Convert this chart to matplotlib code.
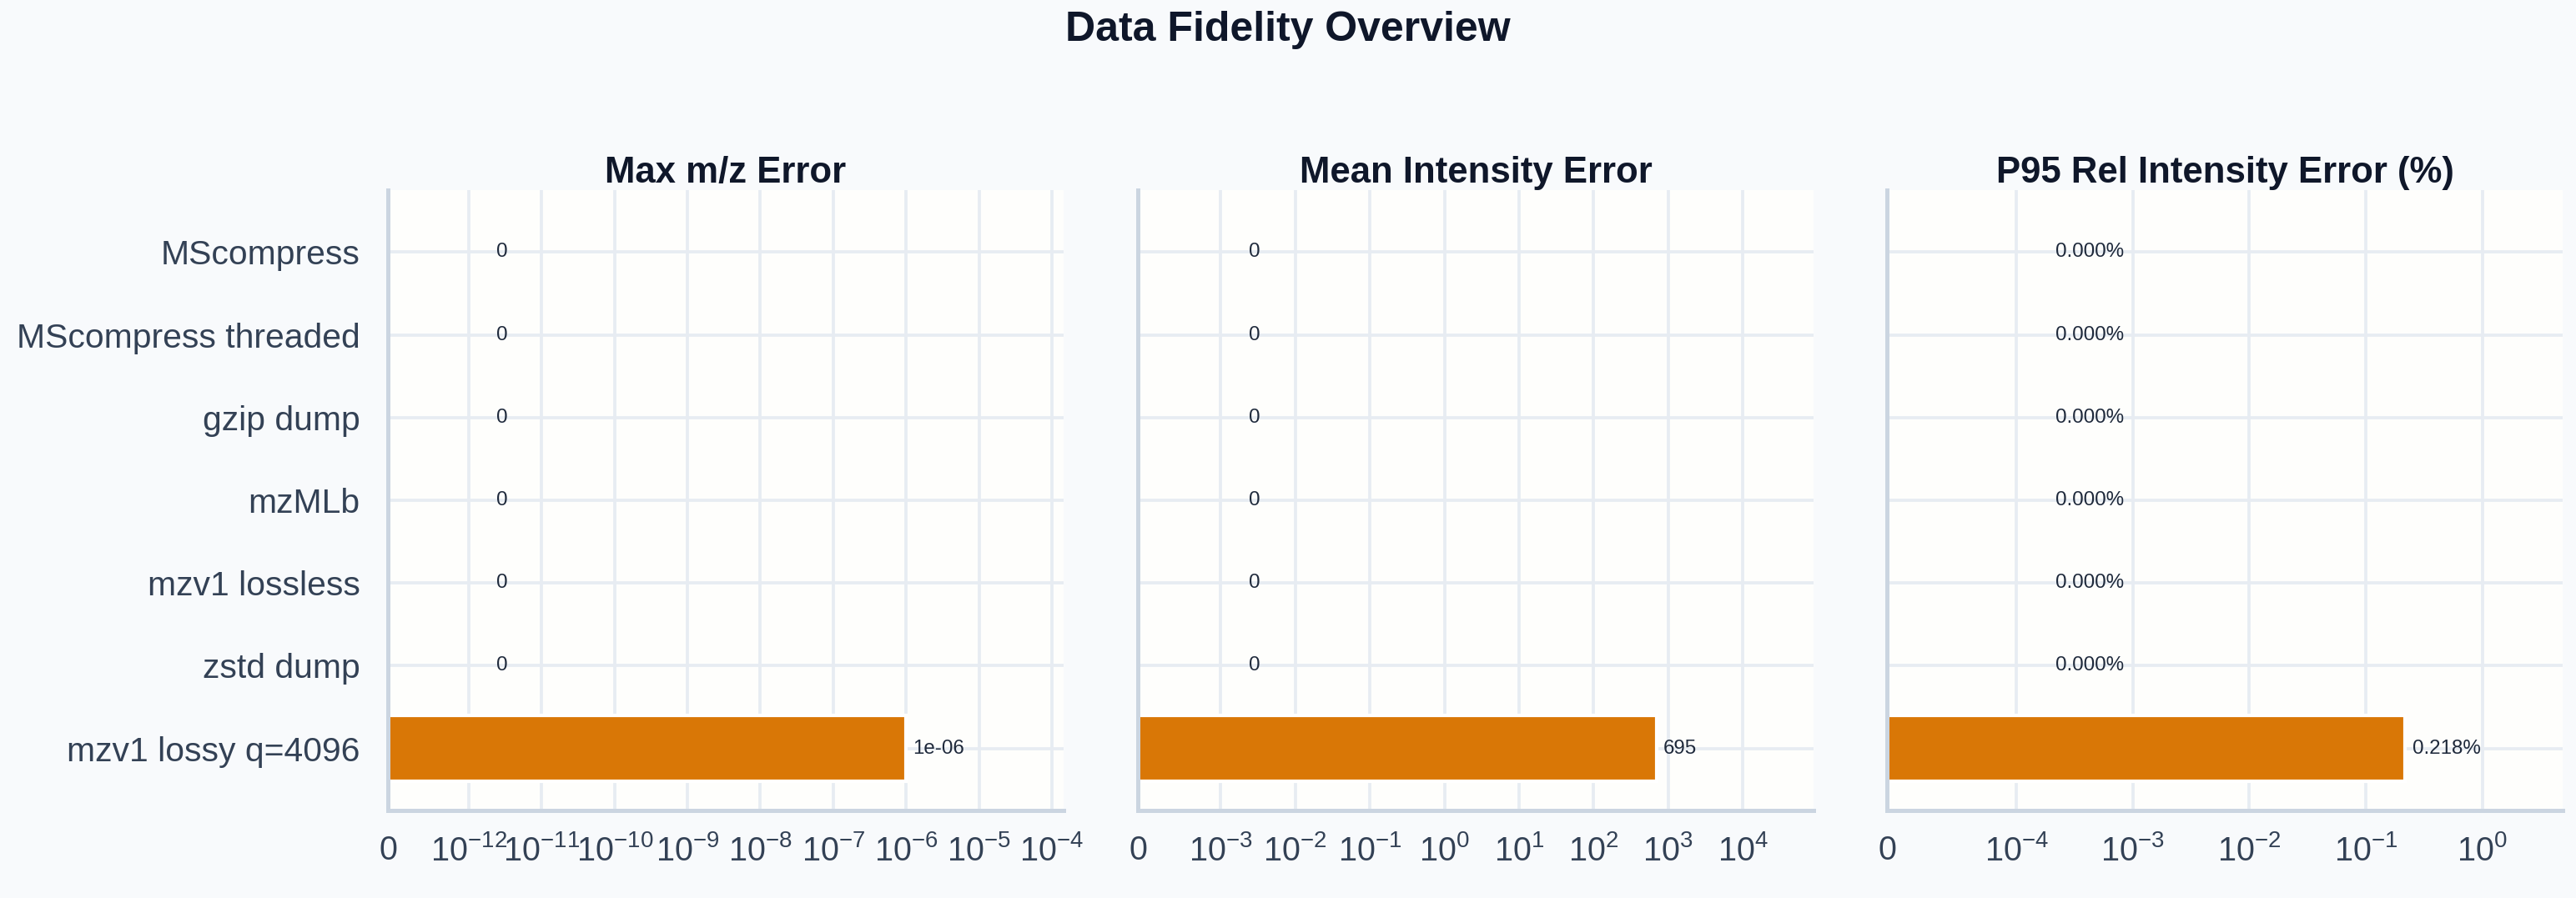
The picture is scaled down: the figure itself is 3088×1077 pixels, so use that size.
import numpy as np
import matplotlib
matplotlib.use('Agg')
import matplotlib.pyplot as plt

plt.rcParams['font.family'] = ['Liberation Sans', 'DejaVu Sans']
plt.rcParams['mathtext.fontset'] = 'custom'
plt.rcParams['mathtext.rm'] = 'Liberation Sans'
plt.rcParams['mathtext.it'] = 'Liberation Sans:italic'
plt.rcParams['mathtext.bf'] = 'Liberation Sans:bold'

# data
methods = ['MScompress', 'MScompress threaded', 'gzip dump', 'mzMLb',
           'mzv1 lossless', 'zstd dump', 'mzv1 lossy q=4096']
max_mz_err = [0, 0, 0, 0, 0, 0, 1e-6]
mean_int_err = [0, 0, 0, 0, 0, 0, 695]
p95_rel_err = [0, 0, 0, 0, 0, 0, 0.218]

titles = ['Max m/z Error', 'Mean Intensity Error', 'P95 Rel Intensity Error (%)']
linthresh = [1e-12, 1e-3, 1e-4]
xmax = [1.45e-4, 8.9e4, 4.9]
tick_exp = [range(-12, -3), range(-3, 5), range(-4, 1)]

bg = '#F8FAFC'
bar_color = '#D97706'
grid_color = '#E7ECF2'
spine_color = '#CBD5E1'

fig = plt.figure(figsize=(3088 / 300, 1077 / 300), dpi=300, facecolor=bg)
lefts = [465 / 3088, 1364 / 3088, 2262 / 3088]
w = 810 / 3088
b = 1 - 972 / 1077
h = (972 - 228) / 1077

all_vals = [max_mz_err, mean_int_err, p95_rel_err]
y = np.arange(len(methods))

for i in range(3):
    ax = fig.add_axes([lefts[i], b, w, h])
    ax.set_facecolor('#FEFEFC')
    vals = all_vals[i]
    ax.set_xscale('symlog', linthresh=linthresh[i])
    ax.barh(y, vals, height=0.8, color=bar_color, edgecolor='white',
            linewidth=1, zorder=3)
    ax.set_xlim(0, xmax[i])
    ax.set_ylim(len(methods) - 0.25, -0.75)
    ax.set_xticks([0] + [10.0 ** e for e in tick_exp[i]])
    ax.set_xticks([], minor=True)
    ax.set_yticks(y)
    if i == 0:
        ax.set_yticklabels(methods)
    else:
        ax.set_yticklabels([])
    ax.tick_params(axis='y', length=0, labelsize=9.8, colors='#334155', pad=8)
    ax.tick_params(axis='x', length=0, labelsize=9.5, colors='#334155', pad=7)
    ax.grid(True, color=grid_color, linewidth=0.9, zorder=0)
    ax.set_axisbelow(True)
    for s in ['top', 'right']:
        ax.spines[s].set_visible(False)
    for s in ['left', 'bottom']:
        ax.spines[s].set_color(spine_color)
        ax.spines[s].set_linewidth(1.2)
        ax.spines[s].set_zorder(5)
    ax.set_title(titles[i], fontsize=10.5, fontweight='bold', color='#0F172A', pad=1.5)

    for j, v in enumerate(vals):
        if i == 2:
            txt = '%.3f%%' % v
        else:
            txt = '%.3g' % v
        xpos = v if v > 0 else linthresh[i] * 1.9
        ax.annotate(txt, (xpos, j), xytext=(2, 0), textcoords='offset points',
                    ha='left', va='center', fontsize=5.8, color='#1E293B', zorder=4)

fig.suptitle('Data Fidelity Overview', fontsize=12, fontweight='bold',
             color='#0F172A', y=1 - 36 / 1077, va='center')

fig.savefig('out.png', dpi=300, facecolor=bg)
